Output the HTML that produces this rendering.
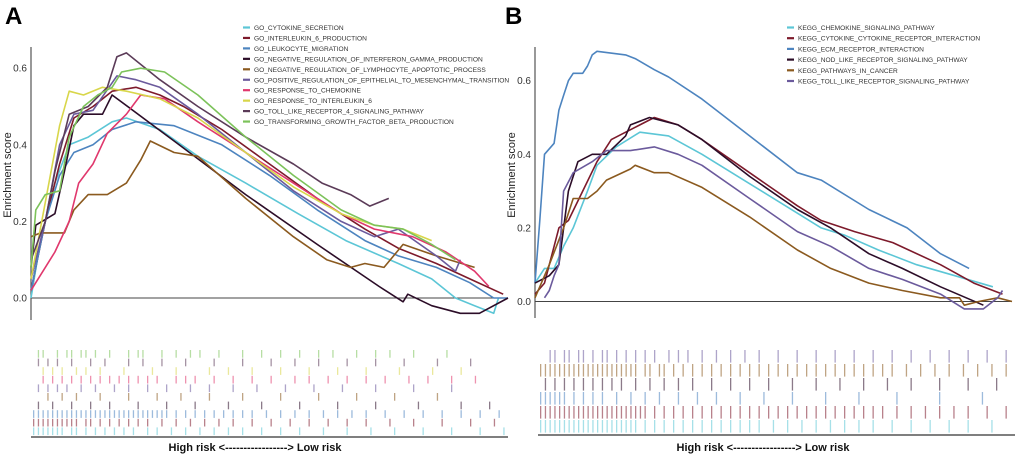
<!DOCTYPE html>
<html><head><meta charset="utf-8"><style>
html,body{margin:0;padding:0;background:#fff;}
svg{display:block;font-family:"Liberation Sans",sans-serif;}
</style></head><body>
<svg id="fig" width="1020" height="457" viewBox="0 0 1020 457" xmlns="http://www.w3.org/2000/svg"></svg>
<script>
// ---------- Panel A data (x = rank %, y = enrichment score) ----------
const namesA = ["GO_CYTOKINE_SECRETION","GO_INTERLEUKIN_6_PRODUCTION","GO_LEUKOCYTE_MIGRATION","GO_NEGATIVE_REGULATION_OF_INTERFERON_GAMMA_PRODUCTION","GO_NEGATIVE_REGULATION_OF_LYMPHOCYTE_APOPTOTIC_PROCESS","GO_POSITIVE_REGULATION_OF_EPITHELIAL_TO_MESENCHYMAL_TRANSITION","GO_RESPONSE_TO_CHEMOKINE","GO_RESPONSE_TO_INTERLEUKIN_6","GO_TOLL_LIKE_RECEPTOR_4_SIGNALING_PATHWAY","GO_TRANSFORMING_GROWTH_FACTOR_BETA_PRODUCTION"];
const colorsA = ["#5cc6d6","#7d1a2b","#4d84bf","#2c0d28","#8b5a1f","#6b5a9c","#e0386d","#d8d64a","#5b3b58","#7cc25a"];
const cyanA = [[0,0],[2,0.15],[5,0.3],[8,0.4],[12,0.42],[17,0.46],[20,0.47],[27,0.44],[35,0.37],[45,0.3],[56,0.22],[66,0.15],[77,0.09],[84,0.05],[89,0.0],[93,-0.02],[97,-0.04],[98,0]];
const il6A = [[0,0.02],[3,0.2],[6,0.35],[9,0.47],[13,0.5],[17,0.54],[22,0.55],[27,0.53],[32,0.5],[40,0.44],[50,0.35],[60,0.26],[70,0.18],[77,0.13],[85,0.09],[92,0.05],[99,0.01]];
const leukA = [[0,0.02],[3,0.2],[6,0.32],[9,0.38],[13,0.4],[17,0.44],[22,0.46],[30,0.45],[40,0.4],[50,0.32],[60,0.23],[70,0.15],[77,0.11],[85,0.08],[92,0.04],[97,0.0],[100,0]];
const ifngA = [[0,0.08],[1,0.19],[5,0.22],[7,0.33],[9,0.45],[11,0.48],[15,0.48],[17,0.53],[30,0.41],[45,0.27],[60,0.14],[73,0.03],[78,-0.01],[79,0.01],[84,-0.02],[90,-0.04],[94,-0.04],[100,0]];
const lymA = [[0,0.16],[2,0.17],[7,0.17],[9,0.23],[12,0.27],[16,0.27],[20,0.3],[23,0.36],[25,0.41],[30,0.38],[35,0.37],[45,0.26],[55,0.16],[62,0.1],[67,0.08],[70,0.09],[74,0.08],[78,0.14],[85,0.11],[93,0.08]];
const emtA = [[0,0.05],[3,0.2],[6,0.4],[9,0.48],[13,0.49],[18,0.58],[22,0.57],[27,0.55],[35,0.48],[45,0.38],[55,0.28],[65,0.2],[72,0.16],[77,0.18],[85,0.11],[89,0.07],[90,0.1]];
const chemA = [[0,0.02],[3,0.08],[5,0.12],[8,0.2],[10,0.3],[13,0.35],[16,0.43],[20,0.48],[23,0.53],[28,0.52],[35,0.46],[45,0.38],[55,0.3],[65,0.22],[72,0.18],[80,0.16],[87,0.12],[93,0.07],[96,0.03]];
const il6rA = [[0,0.05],[3,0.25],[6,0.45],[8,0.54],[11,0.53],[15,0.55],[20,0.54],[27,0.52],[35,0.47],[45,0.38],[55,0.29],[65,0.22],[72,0.19],[78,0.18],[84,0.15]];
const tollA = [[0,0.1],[3,0.2],[5,0.33],[8,0.48],[12,0.5],[16,0.55],[18,0.63],[20,0.64],[27,0.57],[35,0.5],[45,0.42],[55,0.35],[61,0.3],[67,0.27],[71,0.24],[75,0.26]];
const tgfA = [[0,0.08],[1,0.23],[3,0.27],[6,0.28],[8,0.42],[11,0.5],[14,0.53],[17,0.55],[19,0.59],[23,0.6],[28,0.59],[35,0.53],[45,0.42],[55,0.32],[65,0.23],[72,0.19],[78,0.18],[84,0.14],[89,0.1]];
const seriesA = [cyanA,il6A,leukA,ifngA,lymA,emtA,chemA,il6rA,tollA,tgfA];
// ---------- Panel B data ----------
const namesB = ["KEGG_CHEMOKINE_SIGNALING_PATHWAY","KEGG_CYTOKINE_CYTOKINE_RECEPTOR_INTERACTION","KEGG_ECM_RECEPTOR_INTERACTION","KEGG_NOD_LIKE_RECEPTOR_SIGNALING_PATHWAY","KEGG_PATHWAYS_IN_CANCER","KEGG_TOLL_LIKE_RECEPTOR_SIGNALING_PATHWAY"];
const colorsB = ["#5cc6d6","#7d1a2b","#4d84bf","#2c0d28","#8b5a1f","#6b5a9c"];
const chemB = [[0,0.05],[2,0.09],[4,0.09],[6,0.15],[8,0.2],[11,0.3],[13,0.37],[17,0.42],[22,0.46],[28,0.45],[35,0.4],[45,0.32],[55,0.24],[60,0.2],[65,0.18],[72,0.14],[80,0.1],[88,0.07],[96,0.04]];
const cytB = [[0,0.02],[2,0.05],[4,0.15],[5,0.2],[7,0.22],[10,0.3],[13,0.38],[16,0.44],[19,0.46],[22,0.48],[25,0.5],[30,0.48],[35,0.44],[45,0.35],[55,0.26],[60,0.22],[67,0.19],[75,0.16],[85,0.1],[92,0.05],[98,0.02]];
const ecmB = [[0,0.05],[1,0.22],[2,0.4],[4,0.43],[5,0.52],[6,0.56],[7,0.6],[8,0.62],[10,0.62],[11,0.64],[12,0.67],[13,0.68],[19,0.67],[21,0.66],[25,0.63],[28,0.61],[35,0.55],[45,0.45],[55,0.35],[60,0.33],[70,0.25],[78,0.2],[85,0.13],[91,0.09]];
const nodB = [[0,0.05],[3,0.07],[5,0.1],[7,0.3],[9,0.38],[12,0.4],[15,0.4],[19,0.45],[20,0.48],[24,0.5],[30,0.48],[35,0.44],[45,0.34],[55,0.25],[62,0.2],[70,0.13],[77,0.09],[85,0.04],[94,-0.01]];
const cancB = [[0,0.01],[3,0.1],[6,0.2],[8,0.28],[11,0.28],[13,0.3],[15,0.33],[20,0.36],[21,0.37],[25,0.35],[28,0.35],[35,0.31],[45,0.23],[55,0.14],[62,0.09],[70,0.05],[77,0.03],[85,0.01],[89,0.01],[90,-0.01],[93,0.0],[97,0.01],[100,0.0]];
const tollB = [[2,0.01],[3,0.03],[4,0.07],[5,0.1],[6,0.3],[8,0.35],[12,0.38],[15,0.41],[20,0.41],[25,0.42],[30,0.4],[35,0.37],[45,0.28],[55,0.19],[62,0.15],[70,0.09],[77,0.06],[85,0.02],[90,-0.02],[94,-0.02],[97,0.01],[98,0.03]];
const seriesB = [chemB,cytB,ecmB,nodB,cancB,tollB];
const ticksY = [0.0,0.2,0.4,0.6];
const tickLabels = ["0.0","0.2","0.4","0.6"];
// rug hit positions (rank %), rows top->bottom
const rugA = [
 [1,2,5,7,8,10,11,13,16,20,22,23,27,30,33,35,39,44,48,52,56,60,63,68,72,75,80,87],
 [1,3,5,8,12,15,20,23,27,32,38,44,50,55,60,66,72,78,85,92],
 [2,4,6,9,11,14,19,25,30,37,41,46,52,58,64,70,77,84,90],
 [2,4,6,8,10,12,14,16,18,20,22,24,26,30,32,34,38,42,46,50,55,58,62,66,70,74,79,83,88,93],
 [1,3,5,7,10,13,17,20,24,28,33,37,42,47,53,59,65,72,80,88],
 [3,6,9,14,20,26,31,37,44,52,60,68,76,85],
 [1,4,8,12,16,22,28,34,41,48,56,64,72,81,90,96],
 [0,1,2,3,4,5,6,7,8,9,10,11,12,13,14,15,16,17,18,19,20,21,22,23,24,25,26,27,28,30,32,34,36,38,40,42,44,46,49,52,55,58,61,64,67,70,74,78,82,86,90,94,98],
 [0,1,2,3,4,5,6,7,8,9,11,12,14,16,18,20,22,24,27,30,33,36,39,42,46,50,54,58,62,66,70,75,80,86,92,97],
 [0,1,2,3,4,5,6,8,9,11,13,15,17,19,21,24,26,29,32,35,38,41,44,48,52,56,61,66,71,76,82,88,94,99]
];
const rugB = [
 [2,3,5,6,8,9,11,13,14,16,18,20,22,24,27,29,31,34,37,40,43,46,50,54,58,62,66,70,74,78,82,86,90,94,98],
 [0,1,2,3,4,5,6,7,8,9,10,11,12,13,14,15,16,17,18,19,20,22,23,25,26,28,30,32,34,36,38,40,42,44,46,48,50,52,54,56,58,60,62,64,66,68,70,72,74,77,80,83,86,89,92,95,98],
 [1,3,5,7,9,11,13,15,17,20,23,26,29,32,36,40,44,48,53,58,63,68,73,78,84,90,96],
 [0,1,2,3,4,5,7,9,11,13,16,19,22,25,29,33,37,42,47,53,60,67,75,84,93],
 [0,1,2,3,4,5,6,7,8,9,10,11,12,13,14,15,16,17,18,19,20,21,22,24,26,28,30,32,34,36,38,40,42,44,46,48,50,52,54,56,58,60,62,64,66,68,70,72,75,78,81,84,87,90,94,98],
 [0,1,2,3,4,5,6,7,8,9,10,11,12,13,14,15,16,17,18,19,20,22,24,26,28,30,32,34,36,38,40,42,44,46,49,52,55,58,61,64,67,70,74,78,82,86,90,95]
];
const rugColorsA = ["#7cc25a","#5b3b58","#d8d64a","#e0386d","#6b5a9c","#8b5a1f","#2c0d28","#4d84bf","#7d1a2b","#5cc6d6"];
const rugColorsB = ["#6b5a9c","#8b5a1f","#2c0d28","#4d84bf","#7d1a2b","#5cc6d6"];

const NS="http://www.w3.org/2000/svg";
const svg=document.getElementById('fig');
function mk(tag,attrs,parent){const e=document.createElementNS(NS,tag);for(const k in attrs)e.setAttribute(k,attrs[k]);(parent||svg).appendChild(e);return e;}

function panel(cfg){
  const g=mk('g',{});
  
  
  const xs=v=>cfg.x0+v/100*(cfg.x1-cfg.x0);
  const ys=v=>cfg.y0-v*cfg.k;
  const L=mk('text',{x:cfg.lx,y:24,'font-size':24,'font-weight':'bold',fill:'#000'},g);L.textContent=cfg.letter;
  
  
  const ax=mk('line',{x1:cfg.ax,y1:47,x2:cfg.ax,y2:cfg.axb,stroke:'#555','stroke-width':1.2},g);
  
  
  ticksY.forEach((t,i)=>{
    const tl=mk('text',{x:cfg.ax-4,y:ys(t)+3.5,'font-size':10,'text-anchor':'end',fill:'#333'},g);tl.textContent=tickLabels[i];
    
    
  });
  const yt=mk('text',{x:0,y:0,'font-size':11,'text-anchor':'middle',fill:'#222',transform:`translate(${cfg.ytx},175) rotate(-90)`},g);yt.textContent='Enrichment score';
  
  
  const zl=mk('line',{x1:cfg.ax,y1:ys(0),x2:cfg.x1,y2:ys(0),stroke:'#444','stroke-width':1},g);
  
  
  cfg.series.forEach((s,i)=>{
    const d=s.map((p,j)=>(j?'L':'M')+xs(p[0]).toFixed(1)+','+ys(p[1]).toFixed(1)).join('');
    const pth=mk('path',{d:d,fill:'none',stroke:cfg.colors[i],'stroke-width':1.6,'stroke-linejoin':'round'},g);
    
    
  });
  cfg.names.forEach((n,i)=>{
    const y=cfg.legY+i*cfg.legDy;
    const lm=mk('line',{x1:cfg.legX,y1:y,x2:cfg.legX+7,y2:y,stroke:cfg.colors[i],'stroke-width':2.2},g);
    
    
    const lt=mk('text',{x:cfg.legX+11,y:y+2.5,'font-size':6.6,fill:'#333'},g);lt.textContent=n;
    
    
  });
  const rows=cfg.rug.length, rh=(cfg.rugB-cfg.rugT)/rows;
  cfg.rug.forEach((r,i)=>{
    r.forEach(p=>{
      const x=cfg.rx0+p/100*(cfg.rx1-cfg.rx0);
      const t=mk('rect',{x:x.toFixed(1),y:(cfg.rugT+i*rh).toFixed(1),width:1.3,height:(rh*0.9).toFixed(1),fill:cfg.rugColors[i],opacity:0.55},g);
      
      
    });
  });
  const bl=mk('line',{x1:cfg.rx0-2,y1:cfg.rugB+1,x2:cfg.rx1,y2:cfg.rugB+1,stroke:'#555','stroke-width':1.5},g);
  
  
  const xl=mk('text',{x:cfg.xlx,y:451,'font-size':11,'font-weight':'bold','text-anchor':'middle',fill:'#111'},g);xl.textContent='High risk <-----------------> Low risk';
  
  
}
panel({id:'go',letter:'A',lx:5,ax:31,axb:320,x0:31,x1:508,y0:298,k:383,ytx:11,series:seriesA,colors:colorsA,names:namesA,
  legX:243,legY:27.5,legDy:10.45,rug:rugA,rugColors:rugColorsA,rugT:350,rugB:436,rx0:33,rx1:508,xlx:255});
panel({id:'kegg',letter:'B',lx:505,ax:535,axb:318,x0:535,x1:1012,y0:301.5,k:368,ytx:515,series:seriesB,colors:colorsB,names:namesB,
  legX:787,legY:27.5,legDy:10.7,rug:rugB,rugColors:rugColorsB,rugT:350,rugB:434,rx0:540,rx1:1015,xlx:763});
</script>
</body></html>
